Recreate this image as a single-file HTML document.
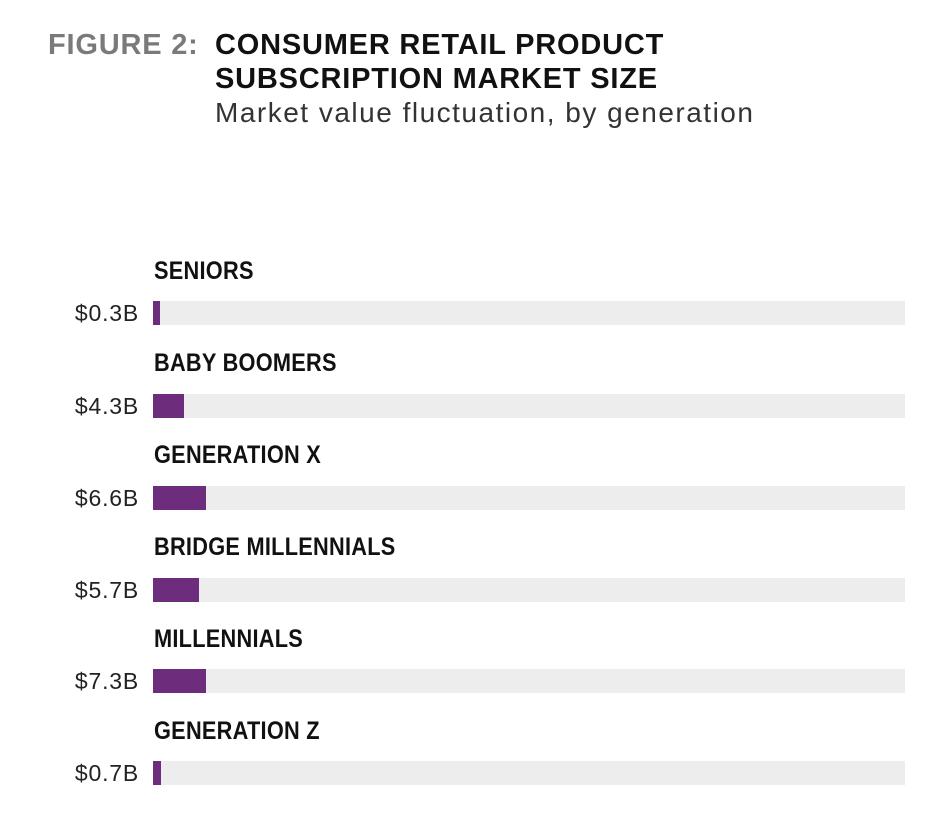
<!DOCTYPE html>
<html><head><meta charset="utf-8"><style>
body{margin:0;width:937px;height:820px;background:#fff;position:relative;overflow:hidden;font-family:"Liberation Sans",sans-serif}
.a{position:absolute;white-space:nowrap}
.fig{left:48px;top:29px;font-size:29px;font-weight:bold;color:#7a7a7a;letter-spacing:0.8px}
.t{left:215px;font-size:29px;font-weight:bold;color:#111;letter-spacing:0.8px}
.sub{left:215px;top:97px;font-size:28px;color:#333;font-weight:normal;letter-spacing:1.5px}
.lab{left:154px;font-size:25px;font-weight:bold;color:#111;transform:scaleX(0.87);transform-origin:left top;letter-spacing:0.3px}
.val{right:798px;font-size:23px;color:#222;text-align:right;letter-spacing:0.8px}
.tr{position:absolute;left:153px;width:752px;height:24px;background:#ededed}
.bar{position:absolute;left:0;top:0;height:24px;background:#6e2c7d}
</style></head><body>
<div class="a fig">FIGURE 2:</div>
<div class="a t" style="top:29px">CONSUMER RETAIL PRODUCT</div>
<div class="a t" style="top:63px">SUBSCRIPTION MARKET SIZE</div>
<div class="a sub">Market value fluctuation, by generation</div>

<div class="a lab" style="top:257px">SENIORS</div>
<div class="a val" style="top:300px">$0.3B</div>
<div class="tr" style="top:301px"><div class="bar" style="width:7px"></div></div>

<div class="a lab" style="top:349px">BABY BOOMERS</div>
<div class="a val" style="top:393px">$4.3B</div>
<div class="tr" style="top:394px"><div class="bar" style="width:31px"></div></div>

<div class="a lab" style="top:441px">GENERATION X</div>
<div class="a val" style="top:485px">$6.6B</div>
<div class="tr" style="top:486px"><div class="bar" style="width:53px"></div></div>

<div class="a lab" style="top:533px">BRIDGE MILLENNIALS</div>
<div class="a val" style="top:577px">$5.7B</div>
<div class="tr" style="top:578px"><div class="bar" style="width:46px"></div></div>

<div class="a lab" style="top:625px">MILLENNIALS</div>
<div class="a val" style="top:668px">$7.3B</div>
<div class="tr" style="top:669px"><div class="bar" style="width:53px"></div></div>

<div class="a lab" style="top:717px">GENERATION Z</div>
<div class="a val" style="top:760px">$0.7B</div>
<div class="tr" style="top:761px"><div class="bar" style="width:8px"></div></div>
</body></html>
